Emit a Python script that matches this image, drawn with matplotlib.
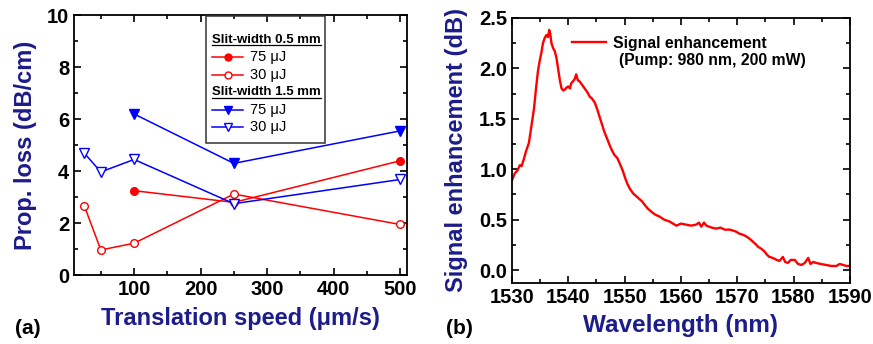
import matplotlib
matplotlib.use("Agg")
import matplotlib.pyplot as plt
from matplotlib.lines import Line2D
from matplotlib.patches import Rectangle
from matplotlib.ticker import MultipleLocator

plt.rcParams['font.family'] = ['Liberation Sans', 'DejaVu Sans']
plt.rcParams['font.weight'] = 'bold'

NAVY = '#1c1c8a'

# (a) propagation loss vs translation speed
speed_75 = [100, 250, 500]
loss_05_75 = [3.25, 2.8, 4.4]
loss_15_75 = [6.2, 4.3, 5.55]
speed_30 = [25, 50, 100, 250, 500]
loss_05_30 = [2.68, 0.97, 1.23, 3.12, 1.95]
loss_15_30 = [4.7, 3.97, 4.45, 2.75, 3.68]

# (b) signal enhancement spectrum
wl = [1530.0, 1530.5, 1531.0, 1531.4, 1531.7, 1532.1, 1532.5, 1533.0, 1533.4, 1533.9,
      1534.3, 1534.6, 1534.9, 1535.2, 1535.5, 1535.8, 1536.1, 1536.4, 1536.6, 1536.8,
      1537.0, 1537.3, 1537.6, 1537.9, 1538.2, 1538.5, 1538.8, 1539.1, 1539.4, 1539.7,
      1540.0, 1540.3, 1540.5, 1540.8, 1541.1, 1541.4, 1541.7, 1542.0, 1542.4, 1542.9,
      1543.3, 1543.8, 1544.2, 1544.7, 1545.1, 1545.6, 1546.0, 1546.4, 1546.9, 1547.4,
      1547.8, 1548.2, 1548.7, 1549.1, 1549.7, 1550.1, 1550.6, 1551.0, 1551.5, 1552.1,
      1552.7, 1553.1, 1553.5, 1554.1, 1554.7, 1555.4, 1556.2, 1557.0, 1558.0, 1558.6,
      1559.2, 1560.0, 1560.9, 1561.8, 1562.7, 1563.2, 1563.6, 1564.1, 1564.5, 1565.0,
      1565.5, 1566.2, 1567.0, 1567.8, 1568.7, 1569.3, 1569.8, 1570.4, 1571.0, 1571.7,
      1572.4, 1573.0, 1573.4, 1573.7, 1574.3, 1574.9, 1575.3, 1575.7, 1576.3, 1577.0,
      1577.5, 1578.1, 1578.5, 1579.0, 1579.5, 1580.2, 1580.8, 1581.4, 1582.0, 1582.6,
      1583.0, 1583.5, 1584.0, 1584.8, 1585.8, 1586.7, 1587.6, 1588.2, 1588.8, 1589.4,
      1590.0]
gain = [0.89, 0.96, 0.99, 1.04, 1.03, 1.10, 1.18, 1.26, 1.41, 1.60,
        1.82, 1.97, 2.07, 2.15, 2.25, 2.30, 2.33, 2.31, 2.38, 2.34,
        2.25, 2.20, 2.17, 2.10, 1.99, 1.88, 1.80, 1.78, 1.79, 1.81,
        1.82, 1.80, 1.85, 1.87, 1.89, 1.94, 1.88, 1.87, 1.84, 1.80,
        1.77, 1.72, 1.70, 1.66, 1.60, 1.51, 1.44, 1.37, 1.30, 1.23,
        1.18, 1.14, 1.11, 1.06, 0.98, 0.91, 0.84, 0.80, 0.76, 0.73,
        0.70, 0.68, 0.65, 0.61, 0.58, 0.55, 0.53, 0.50, 0.48, 0.46,
        0.44, 0.46, 0.45, 0.44, 0.45, 0.47, 0.43, 0.47, 0.44, 0.43,
        0.42, 0.41, 0.42, 0.40, 0.40, 0.39, 0.38, 0.36, 0.35, 0.33,
        0.30, 0.27, 0.25, 0.23, 0.21, 0.18, 0.15, 0.13, 0.12, 0.10,
        0.09, 0.13, 0.08, 0.07, 0.10, 0.10, 0.06, 0.05, 0.07, 0.12,
        0.06, 0.08, 0.07, 0.06, 0.05, 0.04, 0.04, 0.06, 0.05, 0.04,
        0.04]

fig = plt.figure(figsize=(8.73, 3.44), dpi=100)
ax1 = fig.add_axes([0.085, 0.20, 0.381, 0.756])
ax2 = fig.add_axes([0.5865, 0.177, 0.387, 0.771])

for ax in (ax1, ax2):
    ax.tick_params(which='both', direction='in', top=True, right=True,
                   labelsize=14.5, width=1.2)
    ax.tick_params(which='major', length=5)
    ax.tick_params(which='minor', length=3)
    for s in ax.spines.values():
        s.set_linewidth(1.3)

# ---- panel (a)
ax1.plot(speed_75, loss_05_75, '-o', color='red', mfc='red', ms=5.5, lw=1.1)
ax1.plot(speed_30, loss_05_30, '-o', color='red', mfc='white', ms=5.5, lw=1.1)
ax1.plot(speed_75, loss_15_75, '-v', color='blue', mfc='blue', ms=6.5, lw=1.1)
ax1.plot(speed_30, loss_15_30, '-v', color='blue', mfc='white', ms=6.5, lw=1.1)
ax1.set_xlim(10, 510)
ax1.set_ylim(0, 10)
ax1.xaxis.set_minor_locator(MultipleLocator(50))
ax1.yaxis.set_minor_locator(MultipleLocator(1))
ax1.set_xticks([100, 200, 300, 400, 500])
ax1.set_xticklabels(['100', '200', '300', '400', '500'], fontweight='bold')
ax1.set_yticks([0, 2, 4, 6, 8, 10])
ax1.set_yticklabels(['0', '2', '4', '6', '8', '10'], fontweight='bold')
ax1.set_xlabel('Translation speed (μm/s)', fontsize=17, color=NAVY,
               fontweight='bold', labelpad=6)
ax1.set_ylabel('Prop. loss (dB/cm)', fontsize=17, color=NAVY,
               fontweight='bold', labelpad=7)

# hand-built legend box with underlined group headers
ta = ax1.transAxes
ax1.add_patch(Rectangle((0.395, 0.51), 0.36, 0.485, transform=ta, fill=False,
                        lw=1.1, edgecolor='#333333', zorder=5))
rows = [
    ('head', 'Slit-width 0.5 mm', None),
    ('line', '75 μJ', dict(color='red', marker='o', mfc='red', ms=5)),
    ('line', '30 μJ', dict(color='red', marker='o', mfc='white', ms=5)),
    ('head', 'Slit-width 1.5 mm', None),
    ('line', '75 μJ', dict(color='blue', marker='v', mfc='blue', ms=6)),
    ('line', '30 μJ', dict(color='blue', marker='v', mfc='white', ms=6)),
]
heads = []
y = 0.905
for kind, label, style in rows:
    if kind == 'head':
        t = ax1.text(0.415, y, label, transform=ta, fontsize=9.5,
                     fontweight='bold', va='center', ha='left')
        heads.append(t)
    else:
        ax1.add_line(Line2D([0.415, 0.508], [y, y], transform=ta, lw=1.1,
                            color=style['color']))
        ax1.add_line(Line2D([0.4615], [y], transform=ta, ls='none', **style))
        ax1.text(0.53, y, label, transform=ta, fontsize=10.5,
                 fontweight='normal', va='center', ha='left')
    y -= 0.067

fig.canvas.draw()
r = fig.canvas.get_renderer()
for t in heads:
    bb = t.get_window_extent(r).transformed(ta.inverted())
    ax1.add_line(Line2D([bb.x0, bb.x1], [bb.y0 + 0.002, bb.y0 + 0.002],
                        transform=ta, color='black', lw=0.9))

# ---- panel (b)
ax2.plot(wl, gain, color='red', lw=1.7, label='Signal enhancement')
ax2.set_xlim(1530, 1590)
ax2.set_ylim(-0.13, 2.5)
ax2.xaxis.set_minor_locator(MultipleLocator(5))
ax2.yaxis.set_minor_locator(MultipleLocator(0.25))
ax2.set_xticks([1530, 1540, 1550, 1560, 1570, 1580, 1590])
ax2.set_xticklabels(['1530', '1540', '1550', '1560', '1570', '1580', '1590'],
                    fontweight='bold')
ax2.set_yticks([0, 0.5, 1.0, 1.5, 2.0, 2.5])
ax2.set_yticklabels(['0.0', '0.5', '1.0', '1.5', '2.0', '2.5'], fontweight='bold')
ax2.set_xlabel('Wavelength (nm)', fontsize=17.5, color=NAVY,
               fontweight='bold', labelpad=5)
ax2.set_ylabel('Signal enhancement (dB)', fontsize=17, color=NAVY,
               fontweight='bold', labelpad=8)
ax2.legend(loc='upper left', bbox_to_anchor=(0.135, 0.985), frameon=False,
           prop=dict(weight='bold', size=11.3), handlelength=2.2,
           handletextpad=0.4)
ax2.text(0.318, 0.84, '(Pump: 980 nm, 200 mW)', transform=ax2.transAxes,
         fontsize=11.3, fontweight='bold', va='center')

fig.text(0.017, 0.03, '(a)', fontsize=15, fontweight='bold')
fig.text(0.511, 0.03, '(b)', fontsize=15, fontweight='bold')

fig.savefig('out.png', dpi=100)
